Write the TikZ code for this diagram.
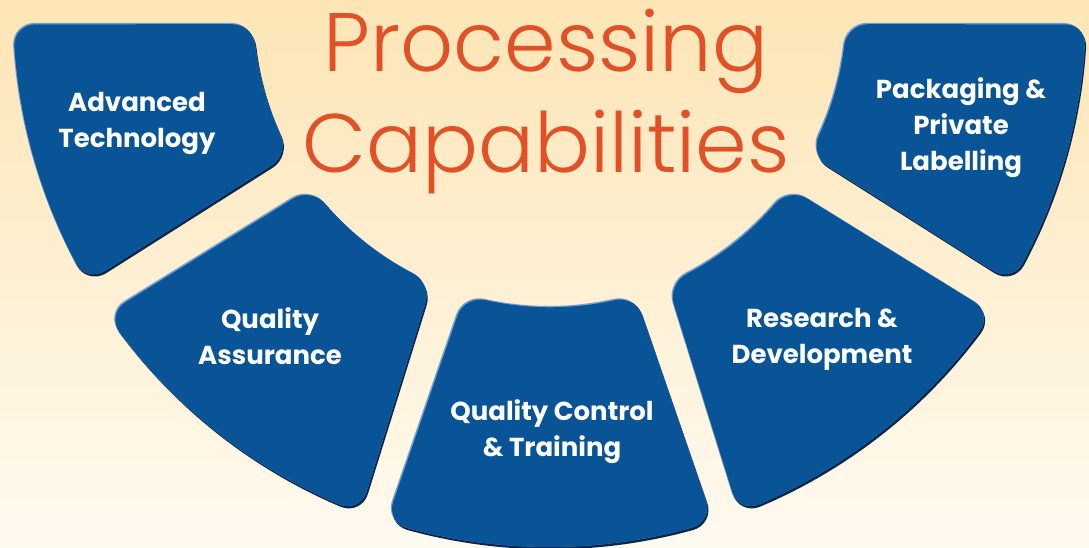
\documentclass[tikz,border=0pt]{standalone}
\usepackage{fontspec}
\setmainfont{Poppins}
\newfontfamily\lightfont{Poppins Light}
\usetikzlibrary{calc}
\definecolor{bgtop}{RGB}{253,229,181}
\definecolor{bgbot}{RGB}{255,250,240}
\definecolor{blk}{RGB}{9,84,150}
\definecolor{blkdark}{RGB}{10,40,75}
\definecolor{blklight}{RGB}{115,158,205}
\definecolor{titlec}{RGB}{224,81,40}
\def\ri{296}\def\ro{537}\def\rr{22}\def\rc{9.86}\def\dI{4.26}\def\dO{2.35}
\newcommand\secpath[4]{%
 ({#2+\dO}:\ro pt) arc[start angle={#2+\dO}, end angle={#4-\dO}, radius=\ro pt]
 .. controls ({#4-0.448*\dO}:\ro pt) and ($(#4:\ro pt)!\rc pt!(#3:\ri pt)$)
 .. ($(#4:\ro pt)!\rr pt!(#3:\ri pt)$)
 -- ($(#3:\ri pt)!\rr pt!(#4:\ro pt)$)
 .. controls ($(#3:\ri pt)!\rc pt!(#4:\ro pt)$) and ({#3-0.448*\dI}:\ri pt)
 .. ({#3-\dI}:\ri pt)
 arc[start angle={#3-\dI}, end angle={#1+\dI}, radius=\ri pt]
 .. controls ({#1+0.448*\dI}:\ri pt) and ($(#1:\ri pt)!\rc pt!(#2:\ro pt)$)
 .. ($(#1:\ri pt)!\rr pt!(#2:\ro pt)$)
 -- ($(#2:\ro pt)!\rr pt!(#1:\ri pt)$)
 .. controls ($(#2:\ro pt)!\rc pt!(#1:\ri pt)$) and ({#2+0.448*\dO}:\ro pt)
 .. ({#2+\dO}:\ro pt) -- cycle}
\newcommand\secshape[4]{%
 \begin{scope}[shift={(549,538)}]
  \begin{scope}[shift={(1.3,-2.4)}]\fill[blkdark]\secpath{#1}{#2}{#3}{#4};\end{scope}
  \fill[blklight]\secpath{#1}{#2}{#3}{#4};
  \begin{scope}
   \clip\secpath{#1}{#2}{#3}{#4};
   \begin{scope}[shift={(1.2,-1.3)}]\fill[blk]\secpath{#1}{#2}{#3}{#4};\end{scope}
  \end{scope}
 \end{scope}}
\tikzset{
 lbl/.style={text=white, font=\fontsize{26}{36}\selectfont\bfseries, align=center, inner sep=0pt},
 ttl/.style={text=titlec, font=\fontsize{83}{101}\selectfont\lightfont, align=center, inner sep=0pt}
}
\begin{document}
\begin{tikzpicture}[x=1pt,y=1pt]
\useasboundingbox (0,0) rectangle (1089,548);
\shade[top color=bgtop, bottom color=bgbot] (0,0) rectangle (1089,548);
% sectors: inner/outer angles of both sides
\secshape{182.5}{181.39}{209.0}{210.5}
\secshape{216.4}{214.3}{246.7}{249.4}
\secshape{253.2}{252.2}{286.8}{287.8}
\secshape{293.3}{290.6}{323.6}{325.7}
\secshape{331.0}{329.5}{357.5}{358.61}
\node[ttl] (title) at (546,446) {Processing\\Capabilities};
\node[lbl] (at) at (137,425) {Advanced\\Technology};
\node[lbl] (qa) at (270,212) {Quality\\Assurance};
\node[lbl] (qc) at (552,116) {Quality Control\\\& Training};
\node[lbl] (rd) at (822,208.5) {Research \&\\Development};
\node[lbl] (pp) at (961,420) {Packaging \&\\Private\\Labelling};
\end{tikzpicture}
\end{document}
